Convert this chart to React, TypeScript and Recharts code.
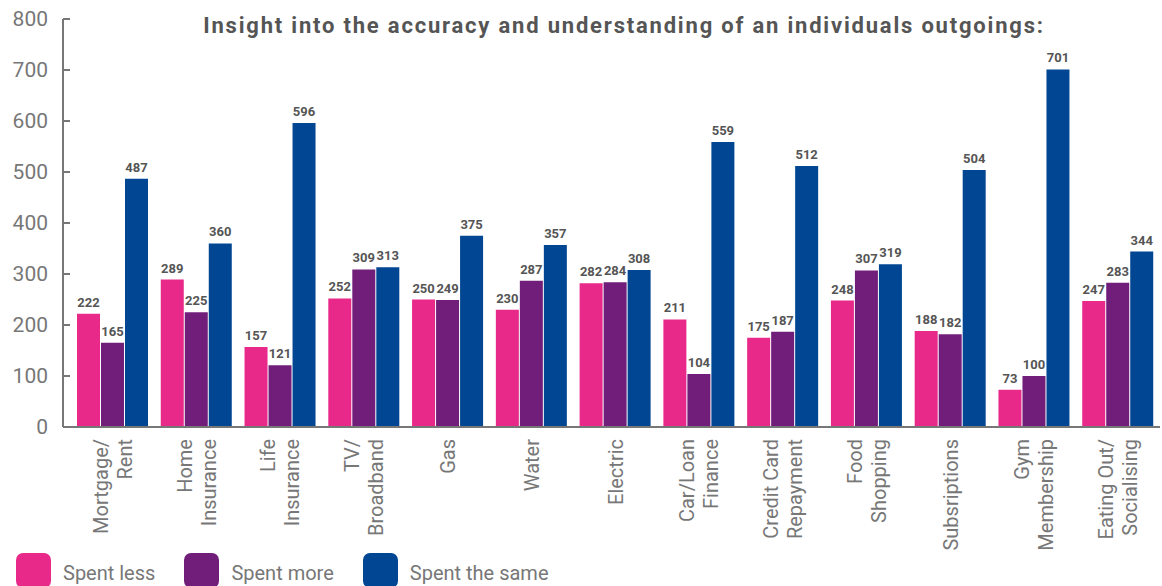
import { BarChart, Bar, XAxis, YAxis, Legend, LabelList } from 'recharts';

const categories = [
  'Mortgage/\nRent',
  'Home\nInsurance',
  'Life\nInsurance',
  'TV/\nBroadband',
  'Gas',
  'Water',
  'Electric',
  'Car/Loan\nFinance',
  'Credit Card\nRepayment',
  'Food\nShopping',
  'Subsriptions',
  'Gym\nMembership',
  'Eating Out/\nSocialising',
];
const spentLess = [222, 289, 157, 252, 250, 230, 282, 211, 175, 248, 188, 73, 247];
const spentMore = [165, 225, 121, 309, 249, 287, 284, 104, 187, 307, 182, 100, 283];
const spentSame = [487, 360, 596, 313, 375, 357, 308, 559, 512, 319, 504, 701, 344];
const yTicks = [0, 100, 200, 300, 400, 500, 600, 700, 800];

const series = [
  { key: 'less', name: 'Spent less', color: '#e8298a' },
  { key: 'more', name: 'Spent more', color: '#711e7b' },
  { key: 'same', name: 'Spent the same', color: '#004692' },
];

const data = categories.map((c, i) => ({
  name: c,
  less: spentLess[i],
  more: spentMore[i],
  same: spentSame[i],
}));

const font = 'Roboto, "DejaVu Sans", sans-serif';

const CategoryTick = (props: any) => {
  const { x, y, payload } = props;
  const lines: string[] = String(payload.value).split('\n');
  const step = 24;
  const start = -((lines.length - 1) * step) / 2;
  return (
    <g>
      {lines.map((ln, i) => {
        const lx = x + start + i * step;
        const ly = y + 4;
        return (
          <text
            key={i}
            x={lx}
            y={ly}
            transform={`rotate(-90, ${lx}, ${ly})`}
            textAnchor="end"
            dominantBaseline="central"
            fontSize={20}
            fill="#777"
            fontFamily={font}
          >
            {ln}
          </text>
        );
      })}
    </g>
  );
};

const LegendBox = () => (
  <div style={{ display: 'flex', height: 33, alignItems: 'flex-start', fontFamily: font }}>
    {series.map((s, i) => (
      <div
        key={s.key}
        style={{ display: 'flex', alignItems: 'center', marginLeft: i === 0 ? 16 : 0, marginRight: 29 }}
      >
        <div style={{ width: 35, height: 35, borderRadius: 7, background: s.color }} />
        <span style={{ fontSize: 20, color: '#777', marginLeft: 12, marginTop: 5 }}>{s.name}</span>
      </div>
    ))}
  </div>
);

const App = () => {
  return (
    <div style={{ position: 'absolute', left: 0, top: 0, width: 1162, height: 586, overflow: 'hidden' }}>
      <div
        style={{
          position: 'absolute',
          left: 0,
          width: 1248,
          top: 13,
          textAlign: 'center',
          fontFamily: font,
          fontWeight: 'bold',
          fontSize: 22,
          letterSpacing: 1.8,
          color: '#555',
          zIndex: 2,
        }}
      >
        Insight into the accuracy and understanding of an individuals outgoings:
      </div>
      <BarChart
        width={1162}
        height={586}
        data={data}
        margin={{ top: 19, right: 2, bottom: 0, left: 0 }}
        barCategoryGap={6}
        barGap={1}
      >
        <XAxis
          dataKey="name"
          interval={0}
          height={126}
          tickLine={false}
          axisLine={{ stroke: '#777', strokeWidth: 2 }}
          tick={<CategoryTick />}
          padding={{ left: 8, right: 0 }}
        />
        <YAxis
          width={63}
          domain={[0, 800]}
          ticks={yTicks}
          interval={0}
          tickSize={-7}
          tickMargin={22}
          axisLine={{ stroke: '#777', strokeWidth: 2 }}
          tickLine={{ stroke: '#777', strokeWidth: 2 }}
          tick={{ fontSize: 21, fill: '#777', fontFamily: font }}
        />
        <Legend verticalAlign="bottom" align="left" content={<LegendBox />} />
        {series.map((s) => (
          <Bar key={s.key} dataKey={s.key} name={s.name} fill={s.color} isAnimationActive={false}>
            <LabelList
              dataKey={s.key}
              position="top"
              offset={7}
              fontSize={13}
              fontWeight="bold"
              fill="#555"
              fontFamily={font}
            />
          </Bar>
        ))}
      </BarChart>
    </div>
  );
};

export default App;
